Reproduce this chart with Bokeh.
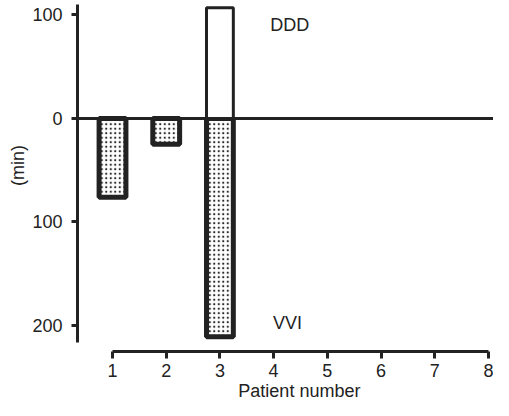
import math
from bokeh.plotting import figure
from bokeh.models import FixedTicker, Range1d, Label
from bokeh.embed import file_html
from bokeh.resources import INLINE
from bokeh.core.properties import value

# Data (minutes)
patients = [1, 2, 3]
ddd_minutes = [0, 0, 107]
vvi_minutes = [76, 25, 211]
x_ticks = [1, 2, 3, 4, 5, 6, 7, 8]
y_ticks = [100, 0, -100, -200]
y_tick_labels = ["100", "0", "100", "200"]

FONT = "Liberation Sans"
INK = "#222222"

Y_AXIS_AT = 0.348      # x position of the vertical axis (data units)
X_AXIS_AT = -225       # y position of the horizontal axis (data units)

p = figure(width=493, height=400, output_backend="svg", toolbar_location=None,
           x_range=Range1d(-1.086, 8.095), y_range=Range1d(-272.5, 114),
           min_border_left=0, min_border_right=0, min_border_top=0, min_border_bottom=0)
p.outline_line_color = None
p.xgrid.visible = False
p.ygrid.visible = False
p.background_fill_color = "white"
p.border_fill_color = "white"

# zero line, starting at the vertical axis
p.segment(x0=[Y_AXIS_AT], y0=[0], x1=[8.095], y1=[0], line_color=INK, line_width=3)

# VVI bars (downward, stippled)
vx = [x for x, v in zip(patients, vvi_minutes) if v > 0]
vv = [-v for v in vvi_minutes if v > 0]
p.vbar(x=vx, bottom=vv, top=0, width=0.5, fill_color="white",
       hatch_pattern="dot", hatch_color="#2a2a2a", hatch_scale=4.5, hatch_weight=2,
       line_color=INK, line_width=5)

# DDD bars (upward, open)
dx = [x for x, v in zip(patients, ddd_minutes) if v > 0]
dv = [v for v in ddd_minutes if v > 0]
p.vbar(x=dx, bottom=0, top=dv, width=0.5, fill_color="white",
       line_color=INK, line_width=3)

p.text(x=[4.30], y=[90.8], text=["DDD"], text_font=value(FONT), text_font_size="18px",
       text_align="center", text_baseline="middle", text_color=INK)
p.text(x=[4.26], y=[-198], text=["VVI"], text_font=value(FONT), text_font_size="18px",
       text_align="center", text_baseline="middle", text_color=INK)

# axis titles
p.add_layout(Label(x=4.48, y=-263.8, text="Patient number", text_font=FONT,
                   text_font_size="18px", text_align="center",
                   text_baseline="alphabetic", text_color=INK))
p.add_layout(Label(x=-0.769, y=-45.4, text="(min)", text_font=FONT, angle=math.pi / 2,
                   text_font_size="18px", text_align="center",
                   text_baseline="middle", text_color=INK))

# axes
xa = p.xaxis[0]
xa.fixed_location = X_AXIS_AT
xa.ticker = FixedTicker(ticks=x_ticks)
xa.bounds = (1, 8)
xa.axis_line_width = 3
xa.axis_line_color = INK
xa.major_tick_line_width = 3
xa.major_tick_line_color = INK
xa.major_tick_in = 0
xa.major_tick_out = 7
xa.minor_tick_line_color = None
xa.major_label_standoff = 6
xa.major_label_text_font = FONT
xa.major_label_text_font_size = "18px"
xa.major_label_text_color = INK

ya = p.yaxis[0]
ya.fixed_location = Y_AXIS_AT
ya.ticker = FixedTicker(ticks=y_ticks)
ya.major_label_overrides = {t: s for t, s in zip(y_ticks, y_tick_labels)}
ya.bounds = (-216, 110)
ya.axis_line_width = 3
ya.axis_line_color = INK
ya.major_tick_line_width = 3
ya.major_tick_line_color = INK
ya.major_tick_in = 0
ya.major_tick_out = 6
ya.minor_tick_line_color = None
ya.major_label_standoff = 9
ya.major_label_text_font = FONT
ya.major_label_text_font_size = "18px"
ya.major_label_text_color = INK

open("out.html", "w").write(file_html(p, INLINE))
